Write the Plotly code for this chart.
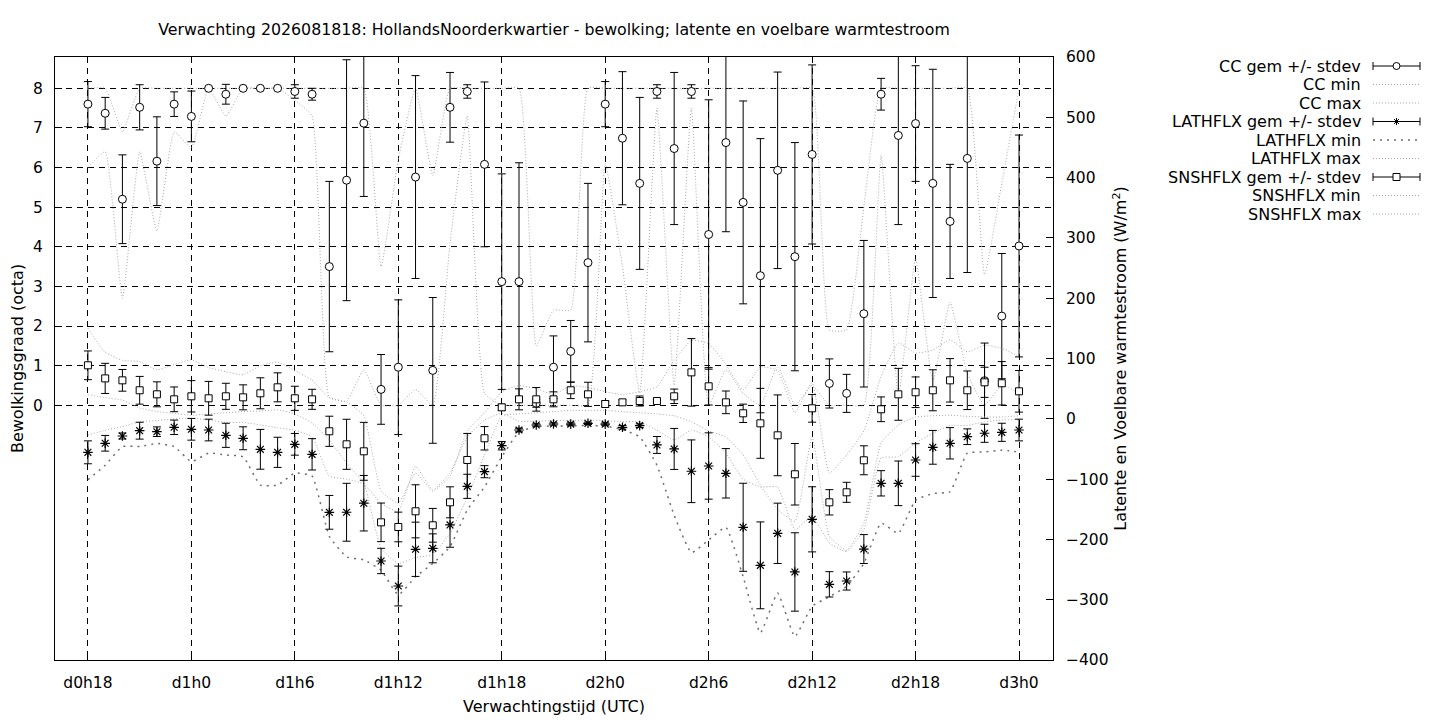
import plotly.graph_objects as go

# Forecast hours (x categories) and the ticks shown every 6 hours
categories = [
    "d0h18", "d0h19", "d0h20", "d0h21", "d0h22", "d0h23",
    "d1h0", "d1h1", "d1h2", "d1h3", "d1h4", "d1h5", "d1h6", "d1h7", "d1h8", "d1h9", "d1h10", "d1h11",
    "d1h12", "d1h13", "d1h14", "d1h15", "d1h16", "d1h17", "d1h18", "d1h19", "d1h20", "d1h21", "d1h22", "d1h23",
    "d2h0", "d2h1", "d2h2", "d2h3", "d2h4", "d2h5", "d2h6", "d2h7", "d2h8", "d2h9", "d2h10", "d2h11",
    "d2h12", "d2h13", "d2h14", "d2h15", "d2h16", "d2h17", "d2h18", "d2h19", "d2h20", "d2h21", "d2h22", "d2h23",
    "d3h0",
]
tick_labels = ["d0h18", "d1h0", "d1h6", "d1h12", "d1h18", "d2h0", "d2h6", "d2h12", "d2h18", "d3h0"]
cc_ticks = [0, 1, 2, 3, 4, 5, 6, 7, 8]
flux_ticks = [-400, -300, -200, -100, 0, 100, 200, 300, 400, 500, 600]

# Cloud cover (octa)
cc_mean = [7.60, 7.37, 5.20, 7.52, 6.16, 7.60, 7.29, 8.00, 7.85, 8.00, 8.00, 8.00, 7.92, 7.85, 3.50,
           5.68, 7.12, 0.40, 0.96, 5.76, 0.88, 7.52, 7.92, 6.08, 3.12, 3.12, 0.05, 0.96, 1.36, 3.60,
           7.60, 6.74, 5.60, 7.92, 6.48, 7.92, 4.31, 6.63, 5.12, 3.27, 5.93, 3.75, 6.33, 0.55, 0.30,
           2.31, 7.85, 6.81, 7.11, 5.60, 4.64, 6.23, 0.62, 2.25, 4.02]
cc_sd = [0.57, 0.40, 1.12, 0.57, 1.12, 0.31, 0.64, 0.0, 0.25, 0.0, 0.0, 0.0, 0.17, 0.15, 2.15,
         3.04, 1.85, 0.88, 1.70, 2.56, 1.84, 0.88, 0.17, 2.08, 2.72, 3.00, 0.10, 0.79, 0.78, 2.00,
         0.57, 1.68, 2.17, 0.17, 1.92, 0.17, 3.40, 2.25, 2.56, 3.46, 2.48, 2.88, 2.26, 0.62, 0.48,
         1.85, 0.40, 2.25, 1.46, 2.88, 1.44, 2.88, 0.95, 1.58, 2.80]
cc_min = [6.0, 6.4, 2.7, 6.4, 4.4, 6.9, 6.5, 8.0, 7.3, 8.0, 8.0, 8.0, 7.7, 7.3, 0.2,
          0.1, 0.9, 0.0, 0.0, 0.4, 0.0, 4.1, 7.3, 0.3, 0.0, 0.0, 0.0, 0.0, 0.0, 0.0,
          6.1, 3.5, 0.3, 7.5, 0.5, 7.5, 0.0, 0.9, 0.3, 0.0, 1.0, 0.0, 0.5, 0.0, 0.0,
          0.0, 6.3, 0.2, 3.7, 0.6, 2.6, 0.8, 0.0, 0.5, 0.3]
cc_max = [8.0, 8.0, 6.9, 8.0, 8.0, 8.0, 8.0, 8.0, 8.0, 8.0, 8.0, 8.0, 8.0, 8.0, 8.0,
          8.0, 8.0, 3.5, 6.2, 8.0, 5.8, 8.0, 8.0, 8.0, 8.0, 8.0, 1.5, 2.4, 2.4, 8.0,
          8.0, 8.0, 8.0, 8.0, 8.0, 8.0, 8.0, 8.0, 8.0, 8.0, 8.0, 8.0, 8.0, 1.9, 1.9,
          5.0, 8.0, 8.0, 8.0, 8.0, 8.0, 8.0, 3.3, 5.6, 8.0]

# Latent heat flux (W/m2)
lat_mean = [-55.6, -40.6, -28.5, -19.7, -21.4, -14.1, -17.4, -18.6, -27.4, -32.3, -50.6, -55.6, -42.3, -58.9, -155.1,
            -155.0, -140.0, -235.8, -277.3, -216.4, -214.8, -176.0, -112.0, -87.7, -44.6, -18.6, -10.3, -8.6, -8.8, -7.5,
            -8.8, -14.1, -11.4, -43.4, -50.0, -87.0, -78.3, -90.4, -179.9, -243.0, -189.9, -254.0, -166.7, -274.5, -269.0,
            -216.0, -107.0, -107.0, -68.3, -47.3, -40.6, -29.7, -24.0, -22.4, -18.6]
lat_sd = [19, 13, 5, 14, 8, 12, 18, 18, 20, 19, 33, 25, 18, 26, 28,
          48, 46, 21, 33, 45, 24, 37, 20, 10, 7, 3, 2, 2, 2, 2,
          2, 3, 3, 14, 34, 52, 55, 41, 73, 72, 50, 65, 54, 21, 15,
          24, 21, 37, 27, 28, 26, 13, 15, 15, 18]
lat_min = [-101, -77, -46, -46, -41, -46, -71, -57, -60, -63, -110, -110, -90, -95, -195,
           -229, -234, -251, -292, -262, -240, -212, -151, -113, -63, -22, -13, -12, -12, -11,
           -12, -18, -30, -77, -160, -222, -201, -180, -262, -355, -289, -361, -311, -295, -278,
           -240, -173, -190, -135, -124, -121, -57, -55, -52, -55]
lat_max = [-27, -19, -13, -5, -3, 0, 1, -2, -6, -6, -10, -15, -19, -30, -95,
           -100, -108, -140, -154, -79, -118, -90, -30, -2, 9, -4, -4, -3, -3, -2,
           -3, -5, -5, -19, -35, -19, -30, -57, -100, -113, -113, -184, -162, -206, -220,
           -184, -65, -63, -40, -24, -11, -11, -5, -2, -1]

# Sensible heat flux (W/m2)
sns_mean = [88.7, 67.0, 63.8, 47.3, 40.6, 32.3, 37.3, 34.0, 37.3, 35.6, 42.3, 52.2, 34.0, 32.3, -20.7,
            -42.3, -53.9, -171.7, -179.4, -153.4, -176.6, -138.5, -68.3, -32.3, 19.0, 32.3, 32.3, 32.3, 47.3, 40.6,
            24.5, 27.3, 29.5, 29.5, 37.3, 77.0, 53.9, 27.3, 9.1, -7.5, -27.4, -92.0, 17.4, -138.5, -121.9,
            -68.8, 15.8, 40.6, 44.0, 47.3, 63.8, 47.3, 60.5, 58.9, 45.6]
sns_sd = [23.8, 25.0, 18.0, 23.0, 20.7, 20.5, 26.0, 28.0, 21.6, 20.7, 25.7, 24.0, 20.0, 16.6, 25.0,
          41.5, 48.0, 32.0, 24.6, 44.0, 28.0, 25.7, 44.0, 19.4, 5.0, 17.4, 19.6, 12.4, 13.8, 20.0,
          5.0, 4.0, 8.3, 3.0, 12.0, 56.0, 31.0, 18.8, 15.2, 58.0, 67.0, 51.0, 23.0, 21.0, 16.6,
          24.0, 20.5, 43.0, 25.4, 34.0, 36.0, 32.0, 25.0, 36.0, 34.5]
sns_min = [40, 35, 31, 18, 12, 9, 6, 8, 10, 12, 13, 15, 8, -7, -35,
           -74, -107, -215, -240, -230, -225, -190, -130, -60, 5, 8, 10, 12, 14, 14,
           14, 12, 10, 8, 5, -5, -20, -30, -60, -110, -150, -170, -30, -195, -218,
           -173, -40, -10, 3, 5, 6, 4, 3, 3, 5]
sns_max = [150, 110, 97, 95, 81, 90, 98, 85, 78, 73, 88, 94, 80, 64, 35,
           28, 5, -120, -140, -90, -120, -95, -20, 10, 45, 55, 50, 40, 55, 52,
           45, 40, 45, 53, 97, 130, 125, 90, 48, 86, 80, 10, 60, -90, -60,
           -20, 70, 126, 109, 114, 131, 111, 122, 117, 103]

FONT = "DejaVu Sans"
FS = 16
TICK_FS = 15.5
LIGHT = "#a8a8a8"
DARK = "#6e6e6e"

# plot area in pixels (gnuplot-like layout)
L, R, T, B = 55, 1053, 57, 660


def px(x):
    return (x - L) / (R - L)


def py(y):
    return (B - y) / (B - T)


fig = go.Figure()


def add_mean(y, sd, symbol, size, axis):
    fig.add_trace(go.Scatter(
        x=categories, y=y, yaxis=axis, mode="markers",
        marker=dict(symbol=symbol, size=size, color="white",
                    line=dict(color="black", width=1)),
        error_y=dict(type="data", array=sd, color="black", thickness=1, width=4),
        showlegend=False,
    ))


def add_band(y, axis, color, dash, width=1):
    fig.add_trace(go.Scatter(
        x=categories, y=y, yaxis=axis, mode="lines",
        line=dict(color=color, dash=dash, width=width, shape="spline", smoothing=0.4),
        showlegend=False,
    ))


add_band(cc_min, "y", LIGHT, "1px,2px")
add_band(cc_max, "y", LIGHT, "1px,2px")
add_band(lat_min, "y2", DARK, "2px,5px", 1.5)
add_band(lat_max, "y2", LIGHT, "1px,2px")
add_band(sns_min, "y2", LIGHT, "1px,2px")
add_band(sns_max, "y2", LIGHT, "1px,2px")

add_mean(cc_mean, cc_sd, "circle", 8, "y")
fig.add_trace(go.Scatter(
    x=categories, y=lat_mean, yaxis="y2", mode="markers",
    marker=dict(symbol="asterisk-open", size=8, color="black", line=dict(color="black", width=1.2)),
    error_y=dict(type="data", array=lat_sd, color="black", thickness=1, width=4),
    showlegend=False,
))
add_mean(sns_mean, sns_sd, "square", 7, "y2")

# Legend drawn gnuplot style: right-aligned text, sample to the right
legend_rows = [
    ("CC gem +/- stdev", "circle"), ("CC min", "light"), ("CC max", "light"),
    ("LATHFLX gem +/- stdev", "star"), ("LATHFLX min", "dark"), ("LATHFLX max", "light"),
    ("SNSHFLX gem +/- stdev", "square"), ("SNSHFLX min", "light"), ("SNSHFLX max", "light"),
]
shapes = []
annotations = []
x0, x1, xm = 1373, 1420, 1396.5
for k, (label, kind) in enumerate(legend_rows):
    yy = 66 + k * 18.5
    annotations.append(dict(text=label, xref="paper", yref="paper", x=px(1363), y=py(yy),
                            xanchor="right", yanchor="middle", showarrow=False,
                            font=dict(family=FONT, size=16, color="black")))
    if kind in ("light", "dark"):
        shapes.append(dict(type="line", xref="paper", yref="paper",
                           x0=px(x0), x1=px(x1), y0=py(yy), y1=py(yy),
                           line=dict(color=LIGHT if kind == "light" else DARK,
                                     width=1 if kind == "light" else 1.5,
                                     dash="1px,2px" if kind == "light" else "2px,5px")))
        continue
    line = dict(color="black", width=1)
    shapes.append(dict(type="line", xref="paper", yref="paper",
                       x0=px(x0), x1=px(x1), y0=py(yy), y1=py(yy), line=line))
    for xe in (x0, x1):
        shapes.append(dict(type="line", xref="paper", yref="paper",
                           x0=px(xe), x1=px(xe), y0=py(yy - 4), y1=py(yy + 4), line=line))
    r = 3.5
    if kind == "circle":
        shapes.append(dict(type="circle", xref="paper", yref="paper", fillcolor="white",
                           x0=px(xm - r), x1=px(xm + r), y0=py(yy - r), y1=py(yy + r), line=line))
    elif kind == "square":
        shapes.append(dict(type="rect", xref="paper", yref="paper", fillcolor="white",
                           x0=px(xm - r), x1=px(xm + r), y0=py(yy - r), y1=py(yy + r), line=line))
    else:
        for dx, dy in ((r, 0), (0, r), (r * 0.7, r * 0.7), (r * 0.7, -r * 0.7)):
            shapes.append(dict(type="line", xref="paper", yref="paper",
                               x0=px(xm - dx), x1=px(xm + dx), y0=py(yy - dy), y1=py(yy + dy),
                               line=line))

fig.update_layout(
    width=1440, height=720,
    margin=dict(l=L, r=1440 - R, t=T, b=720 - B, autoexpand=False),
    paper_bgcolor="white", plot_bgcolor="white",
    font=dict(family=FONT, size=FS, color="black"),
    title=dict(text="Verwachting 2026081818: HollandsNoorderkwartier - bewolking; latente en voelbare warmtestroom",
               x=0.5, xref="paper", xanchor="center", y=1 - 29 / 720, yanchor="middle",
               font=dict(family=FONT, size=15.8)),
    xaxis=dict(
        type="category", categoryorder="array", categoryarray=categories,
        range=[-1.91, 55.97], tickmode="array", tickvals=tick_labels, ticktext=tick_labels,
        ticks="inside", ticklen=7, tickcolor="black", ticklabelstandoff=8,
        tickfont=dict(size=TICK_FS),
        showline=True, linecolor="black", linewidth=1, mirror=True,
        showgrid=True, gridcolor="black", gridwidth=1, griddash="6px,5px",
        zeroline=False, automargin=False,
        title=dict(text="Verwachtingstijd (UTC)", standoff=10, font=dict(size=FS)),
    ),
    yaxis=dict(
        range=[-6.43, 8.79], tickmode="array", tickvals=cc_ticks,
        ticks="inside", ticklen=7, tickcolor="black", ticklabelstandoff=8,
        tickfont=dict(size=TICK_FS),
        showline=True, linecolor="black", linewidth=1, mirror=True,
        showgrid=True, gridcolor="black", gridwidth=1, griddash="6px,5px",
        zeroline=False, automargin=False,
        title=dict(text="Bewolkingsgraad (octa)", standoff=5, font=dict(size=FS)),
    ),
    yaxis2=dict(
        overlaying="y", side="right", range=[-400, 600], tickmode="array", tickvals=flux_ticks,
        ticks="inside", ticklen=7, tickcolor="black", ticklabelstandoff=12,
        tickfont=dict(size=TICK_FS),
        showgrid=False, zeroline=False, showline=False, automargin=False,
        title=dict(text="Latente en Voelbare warmtestroom (W/m<sup>2</sup>)", standoff=7,
                   font=dict(size=FS)),
    ),
    shapes=shapes, annotations=annotations,
    showlegend=False,
)

# drop the browser's default body margin so the figure sits at the page origin
fig.write_html("out.html", config={"displayModeBar": False},
               post_script="document.body.style.margin='0px';")
